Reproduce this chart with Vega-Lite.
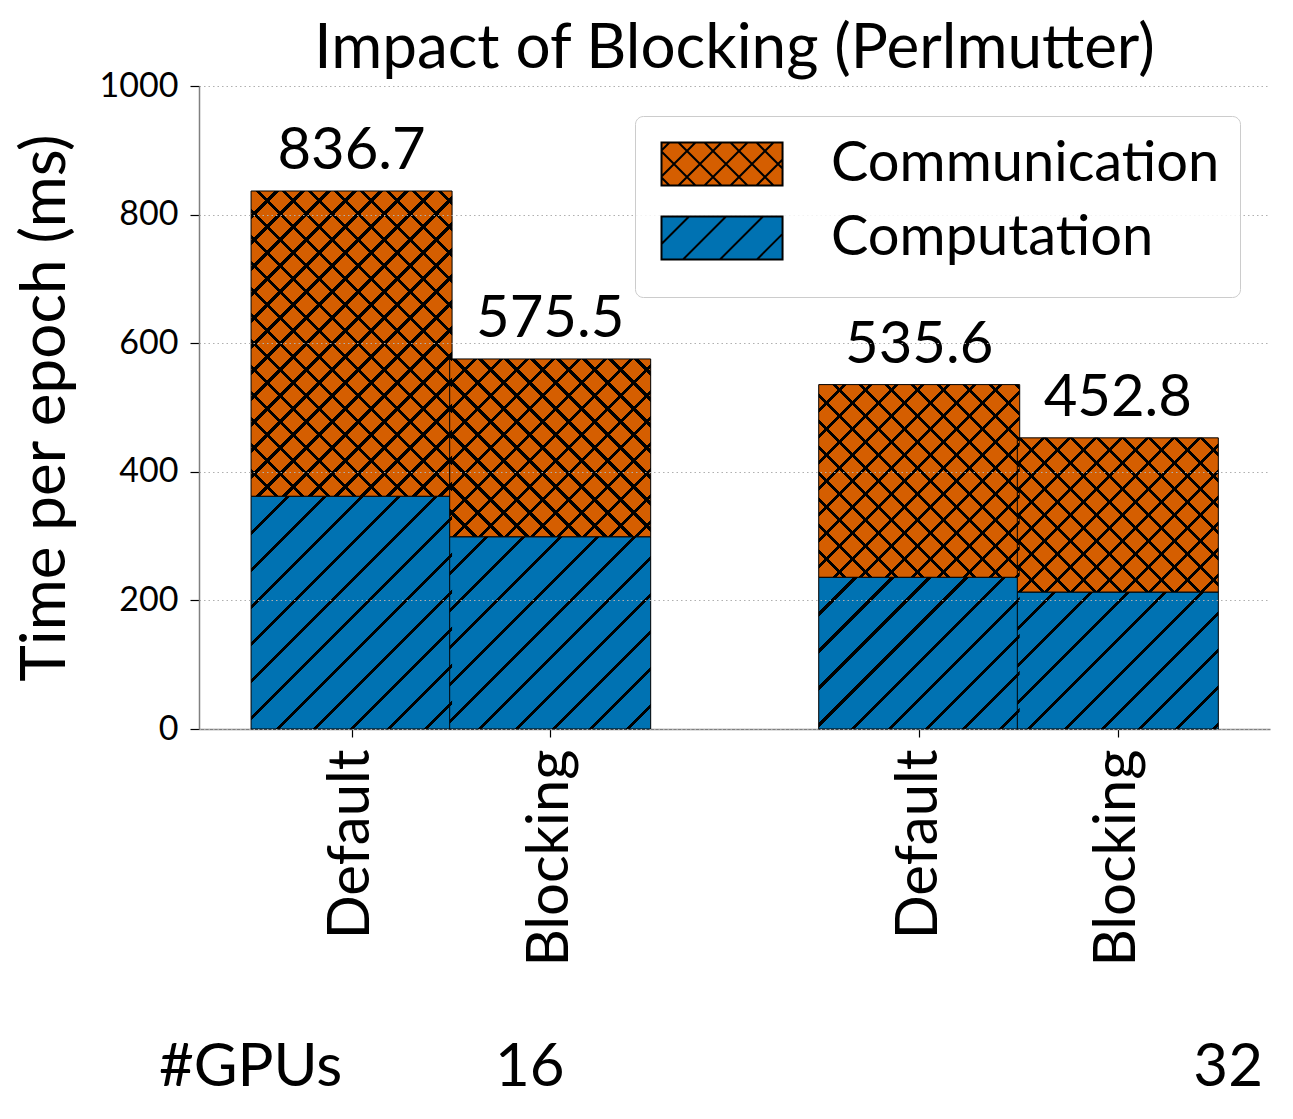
{
  "$schema": "https://vega.github.io/schema/vega-lite/v6.json",
  "width": 1071,
  "height": 643,
  "autosize": {"type": "none"},
  "padding": {"left": 199, "top": 86, "right": 23, "bottom": 390},
  "background": "white",
  "title": {"text": "Impact of Blocking (Perlmutter)", "font": "Lato", "fontSize": 62, "fontWeight": "normal", "color": "black", "frame": "group", "anchor": "middle", "offset": -12},
  "config": {"view": {"stroke": null}, "font": "Lato"},
  "params": [
    {"name": "blueStops", "value": [
      {"offset": 0, "color": "rgba(0,0,0,0)"},
      {"offset": 0.0672, "color": "rgba(0,0,0,0)"}, {"offset": 0.0672, "color": "black"}, {"offset": 0.0752, "color": "black"}, {"offset": 0.0752, "color": "rgba(0,0,0,0)"},
      {"offset": 0.1384, "color": "rgba(0,0,0,0)"}, {"offset": 0.1384, "color": "black"}, {"offset": 0.1464, "color": "black"}, {"offset": 0.1464, "color": "rgba(0,0,0,0)"},
      {"offset": 0.2096, "color": "rgba(0,0,0,0)"}, {"offset": 0.2096, "color": "black"}, {"offset": 0.2176, "color": "black"}, {"offset": 0.2176, "color": "rgba(0,0,0,0)"},
      {"offset": 0.2808, "color": "rgba(0,0,0,0)"}, {"offset": 0.2808, "color": "black"}, {"offset": 0.2888, "color": "black"}, {"offset": 0.2888, "color": "rgba(0,0,0,0)"},
      {"offset": 0.3520, "color": "rgba(0,0,0,0)"}, {"offset": 0.3520, "color": "black"}, {"offset": 0.3600, "color": "black"}, {"offset": 0.3600, "color": "rgba(0,0,0,0)"},
      {"offset": 0.4232, "color": "rgba(0,0,0,0)"}, {"offset": 0.4232, "color": "black"}, {"offset": 0.4312, "color": "black"}, {"offset": 0.4312, "color": "rgba(0,0,0,0)"},
      {"offset": 0.4944, "color": "rgba(0,0,0,0)"}, {"offset": 0.4944, "color": "black"}, {"offset": 0.5024, "color": "black"}, {"offset": 0.5024, "color": "rgba(0,0,0,0)"},
      {"offset": 0.5656, "color": "rgba(0,0,0,0)"}, {"offset": 0.5656, "color": "black"}, {"offset": 0.5736, "color": "black"}, {"offset": 0.5736, "color": "rgba(0,0,0,0)"},
      {"offset": 0.6368, "color": "rgba(0,0,0,0)"}, {"offset": 0.6368, "color": "black"}, {"offset": 0.6448, "color": "black"}, {"offset": 0.6448, "color": "rgba(0,0,0,0)"},
      {"offset": 0.7080, "color": "rgba(0,0,0,0)"}, {"offset": 0.7080, "color": "black"}, {"offset": 0.7160, "color": "black"}, {"offset": 0.7160, "color": "rgba(0,0,0,0)"},
      {"offset": 0.7792, "color": "rgba(0,0,0,0)"}, {"offset": 0.7792, "color": "black"}, {"offset": 0.7872, "color": "black"}, {"offset": 0.7872, "color": "rgba(0,0,0,0)"},
      {"offset": 0.8504, "color": "rgba(0,0,0,0)"}, {"offset": 0.8504, "color": "black"}, {"offset": 0.8584, "color": "black"}, {"offset": 0.8584, "color": "rgba(0,0,0,0)"},
      {"offset": 0.9216, "color": "rgba(0,0,0,0)"}, {"offset": 0.9216, "color": "black"}, {"offset": 0.9296, "color": "black"}, {"offset": 0.9296, "color": "rgba(0,0,0,0)"},
      {"offset": 1, "color": "rgba(0,0,0,0)"}
    ]},
    {"name": "orangeStops", "value": [
      {"offset": 0, "color": "rgba(0,0,0,0)"},
      {"offset": 0.046, "color": "rgba(0,0,0,0)"}, {"offset": 0.046, "color": "black"}, {"offset": 0.054, "color": "black"}, {"offset": 0.054, "color": "rgba(0,0,0,0)"},
      {"offset": 0.096, "color": "rgba(0,0,0,0)"}, {"offset": 0.096, "color": "black"}, {"offset": 0.104, "color": "black"}, {"offset": 0.104, "color": "rgba(0,0,0,0)"},
      {"offset": 0.146, "color": "rgba(0,0,0,0)"}, {"offset": 0.146, "color": "black"}, {"offset": 0.154, "color": "black"}, {"offset": 0.154, "color": "rgba(0,0,0,0)"},
      {"offset": 0.196, "color": "rgba(0,0,0,0)"}, {"offset": 0.196, "color": "black"}, {"offset": 0.204, "color": "black"}, {"offset": 0.204, "color": "rgba(0,0,0,0)"},
      {"offset": 0.246, "color": "rgba(0,0,0,0)"}, {"offset": 0.246, "color": "black"}, {"offset": 0.254, "color": "black"}, {"offset": 0.254, "color": "rgba(0,0,0,0)"},
      {"offset": 0.296, "color": "rgba(0,0,0,0)"}, {"offset": 0.296, "color": "black"}, {"offset": 0.304, "color": "black"}, {"offset": 0.304, "color": "rgba(0,0,0,0)"},
      {"offset": 0.346, "color": "rgba(0,0,0,0)"}, {"offset": 0.346, "color": "black"}, {"offset": 0.354, "color": "black"}, {"offset": 0.354, "color": "rgba(0,0,0,0)"},
      {"offset": 0.396, "color": "rgba(0,0,0,0)"}, {"offset": 0.396, "color": "black"}, {"offset": 0.404, "color": "black"}, {"offset": 0.404, "color": "rgba(0,0,0,0)"},
      {"offset": 0.446, "color": "rgba(0,0,0,0)"}, {"offset": 0.446, "color": "black"}, {"offset": 0.454, "color": "black"}, {"offset": 0.454, "color": "rgba(0,0,0,0)"},
      {"offset": 0.496, "color": "rgba(0,0,0,0)"}, {"offset": 0.496, "color": "black"}, {"offset": 0.504, "color": "black"}, {"offset": 0.504, "color": "rgba(0,0,0,0)"},
      {"offset": 0.546, "color": "rgba(0,0,0,0)"}, {"offset": 0.546, "color": "black"}, {"offset": 0.554, "color": "black"}, {"offset": 0.554, "color": "rgba(0,0,0,0)"},
      {"offset": 0.596, "color": "rgba(0,0,0,0)"}, {"offset": 0.596, "color": "black"}, {"offset": 0.604, "color": "black"}, {"offset": 0.604, "color": "rgba(0,0,0,0)"},
      {"offset": 0.646, "color": "rgba(0,0,0,0)"}, {"offset": 0.646, "color": "black"}, {"offset": 0.654, "color": "black"}, {"offset": 0.654, "color": "rgba(0,0,0,0)"},
      {"offset": 0.696, "color": "rgba(0,0,0,0)"}, {"offset": 0.696, "color": "black"}, {"offset": 0.704, "color": "black"}, {"offset": 0.704, "color": "rgba(0,0,0,0)"},
      {"offset": 0.746, "color": "rgba(0,0,0,0)"}, {"offset": 0.746, "color": "black"}, {"offset": 0.754, "color": "black"}, {"offset": 0.754, "color": "rgba(0,0,0,0)"},
      {"offset": 0.796, "color": "rgba(0,0,0,0)"}, {"offset": 0.796, "color": "black"}, {"offset": 0.804, "color": "black"}, {"offset": 0.804, "color": "rgba(0,0,0,0)"},
      {"offset": 0.846, "color": "rgba(0,0,0,0)"}, {"offset": 0.846, "color": "black"}, {"offset": 0.854, "color": "black"}, {"offset": 0.854, "color": "rgba(0,0,0,0)"},
      {"offset": 0.896, "color": "rgba(0,0,0,0)"}, {"offset": 0.896, "color": "black"}, {"offset": 0.904, "color": "black"}, {"offset": 0.904, "color": "rgba(0,0,0,0)"},
      {"offset": 0.946, "color": "rgba(0,0,0,0)"}, {"offset": 0.946, "color": "black"}, {"offset": 0.954, "color": "black"}, {"offset": 0.954, "color": "rgba(0,0,0,0)"},
      {"offset": 1, "color": "rgba(0,0,0,0)"}
    ]}
  ],
  "data": {"values": [
    {"gpus": 16, "config": "Default", "pos": 0, "part": "Computation", "value": 362},
    {"gpus": 16, "config": "Default", "pos": 0, "part": "Communication", "value": 474.7},
    {"gpus": 16, "config": "Blocking", "pos": 1, "part": "Computation", "value": 299},
    {"gpus": 16, "config": "Blocking", "pos": 1, "part": "Communication", "value": 276.5},
    {"gpus": 32, "config": "Default", "pos": 2.858, "part": "Computation", "value": 236},
    {"gpus": 32, "config": "Default", "pos": 2.858, "part": "Communication", "value": 299.6},
    {"gpus": 32, "config": "Blocking", "pos": 3.858, "part": "Computation", "value": 213},
    {"gpus": 32, "config": "Blocking", "pos": 3.858, "part": "Communication", "value": 239.8}
  ]},
  "transform": [
    {"stack": "value", "groupby": ["gpus", "config"], "sort": [{"field": "part", "order": "descending"}], "as": ["y0", "y1"]}
  ],
  "resolve": {"axis": {"x": "independent"}},
  "layer": [
    {
      "layer": [
        {
          "mark": {"type": "bar", "width": 201, "stroke": "black", "strokeWidth": 1, "opacity": 1},
          "encoding": {
            "x": {"field": "pos", "type": "quantitative",
              "scale": {"domain": [-0.743, 4.599], "nice": false, "zero": false},
              "axis": {"values": [0, 1, 2.858, 3.858], "labelExpr": "(datum.value < 0.5 || (datum.value > 2 && datum.value < 3)) ? 'Default' : 'Blocking'",
                "labelAngle": -90, "labelAlign": "right", "labelBaseline": "middle", "labelFont": "Lato", "labelFontSize": 58, "labelColor": "black", "labelLimit": 0,
                "labelPadding": 12, "tickSize": 8, "tickColor": "black", "tickWidth": 1.2, "domainColor": "#808080", "domainWidth": 1.5,
                "grid": false, "title": null, "labelFlush": false, "labelOverlap": false, "labelBound": false}},
            "y": {"field": "y0", "type": "quantitative",
              "scale": {"domain": [0, 1000], "nice": false},
              "axis": {"values": [0, 200, 400, 600, 800, 1000], "format": "d", "title": "Time per epoch (ms)", "titleFont": "Lato", "titleFontSize": 62, "titleFontWeight": "normal", "titleColor": "black", "titlePadding": 22,
                "labelFont": "Lato", "labelFontSize": 34, "labelColor": "black", "labelPadding": 12, "tickSize": 9, "tickColor": "black", "tickWidth": 1.2,
                "domainColor": "#808080", "domainWidth": 1.5, "grid": true, "gridColor": "#b0b0b0", "gridDash": [1.5, 3], "gridWidth": 1.2, "zindex": 1, "labelFlush": false}},
            "y2": {"field": "y1"},
            "color": {"field": "part", "type": "nominal",
              "scale": {"domain": ["Communication", "Computation"], "range": ["#D55E00", "#0072B2"]},
              "legend": {"orient": "none", "legendX": 436, "legendY": 30, "title": " ", "titleOrient": "bottom", "titleFontSize": 11, "titlePadding": 0,
                "labelFont": "Lato", "labelFontSize": 56, "labelColor": "black", "labelLimit": 0,
                "symbolType": "M-1,-1H4.63V1H-1Z", "symbolSize": 1849, "symbolStrokeColor": "black", "symbolStrokeWidth": 2, "symbolOpacity": 1,
                "labelOffset": 120, "rowPadding": 18, "padding": 20, "fillColor": "rgba(255,255,255,0.85)", "strokeColor": "#cccccc", "cornerRadius": 8, "zindex": 2,
                "encode": {"symbols": {"update": {"shape": {"signal": "datum.value === 'Computation' ? 'M-1,-1H4.63V1H-1ZM-1,0.28L0.28,-1M0,1L2,-1M1.72,1L3.72,-1M3.44,1L4.63,-0.19' : 'M-1,-1H4.63V1H-1ZM-1,-0.63L-0.63,-1M-1,0.58L0.58,-1M-0.21,1L1.79,-1M1,1L3,-1M2.21,1L4.21,-1M3.42,1L4.63,-0.21M-1,0.63L-0.63,1M-1,-0.58L0.58,1M-0.21,-1L1.79,1M1,-1L3,1M2.21,-1L4.21,1M3.42,-1L4.63,0.21'"}}}}}}
          }
        },
        {
          "transform": [{"filter": "datum.part === 'Computation'"}],
          "mark": {"type": "bar", "width": 201},
          "encoding": {"x": {"field": "pos", "type": "quantitative"}, "y": {"field": "y0", "type": "quantitative"}, "y2": {"field": "y1"},
            "fill": {"value": {"expr": "{gradient: 'linear', x1: 0, y1: 0, x2: 520*201/(40401+pow(scale('y',datum.y0)-scale('y',datum.y1),2)), y2: 520*(scale('y',datum.y0)-scale('y',datum.y1))/(40401+pow(scale('y',datum.y0)-scale('y',datum.y1),2)), stops: blueStops}"}}}
        },
        {
          "transform": [{"filter": "datum.part === 'Communication'"}],
          "mark": {"type": "bar", "width": 201},
          "encoding": {"x": {"field": "pos", "type": "quantitative"}, "y": {"field": "y0", "type": "quantitative"}, "y2": {"field": "y1"},
            "fill": {"value": {"expr": "{gradient: 'linear', x1: 0, y1: 0, x2: 520*201/(40401+pow(scale('y',datum.y0)-scale('y',datum.y1),2)), y2: 520*(scale('y',datum.y0)-scale('y',datum.y1))/(40401+pow(scale('y',datum.y0)-scale('y',datum.y1),2)), stops: orangeStops}"}}}
        },
        {
          "transform": [{"filter": "datum.part === 'Communication'"}],
          "mark": {"type": "bar", "width": 201},
          "encoding": {"x": {"field": "pos", "type": "quantitative"}, "y": {"field": "y0", "type": "quantitative"}, "y2": {"field": "y1"},
            "fill": {"value": {"expr": "{gradient: 'linear', x1: 0, y1: 1, x2: 520*201/(40401+pow(scale('y',datum.y0)-scale('y',datum.y1),2)), y2: 1-520*(scale('y',datum.y0)-scale('y',datum.y1))/(40401+pow(scale('y',datum.y0)-scale('y',datum.y1),2)), stops: orangeStops}"}}}
        },
        {
          "transform": [{"filter": "datum.part === 'Communication'"}],
          "mark": {"type": "text", "font": "Lato", "fontSize": 58, "color": "black", "baseline": "alphabetic", "align": "center", "dy": -22},
          "encoding": {"x": {"field": "pos", "type": "quantitative"}, "y": {"field": "y1", "type": "quantitative"}, "text": {"field": "y1", "type": "quantitative", "format": ".1f"}}
        }
      ]
    },
    {
      "mark": {"type": "point", "opacity": 0},
      "encoding": {
        "x": {"field": "pos", "type": "quantitative",
          "axis": {"orient": "bottom", "values": [-0.511, 0.895, 4.411], "labelExpr": "datum.value < 0 ? '#GPUs' : (datum.value < 2 ? '16' : '32')",
            "labelAngle": 0, "labelAlign": "center", "labelBaseline": "alphabetic", "labelFont": "Lato", "labelFontSize": 60, "labelColor": "black", "labelLimit": 0,
            "ticks": false, "domain": false, "grid": false, "labelPadding": 356, "title": null, "labelFlush": false, "labelOverlap": false, "labelBound": false}}
      }
    }
  ]
}
